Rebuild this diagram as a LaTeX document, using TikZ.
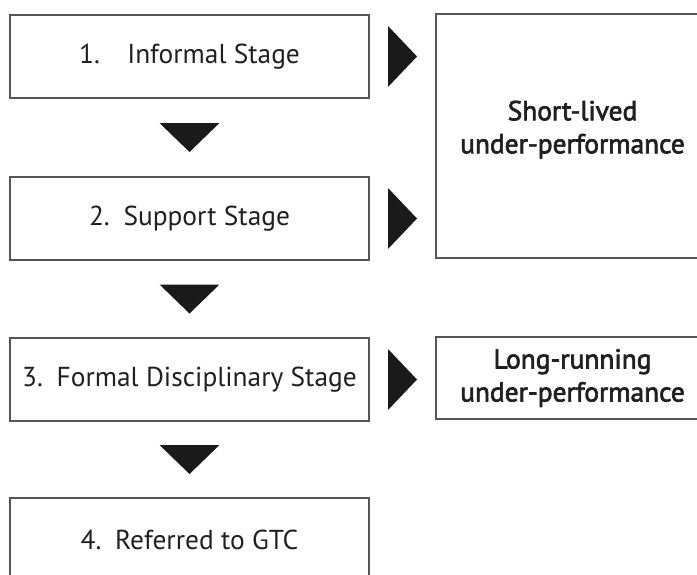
\documentclass[tikz,border=0pt]{standalone}
\usepackage{fontspec}
\setmainfont{PT Sans}
\newfontfamily\semibold[FakeBold=2.5]{PT Sans}
\usetikzlibrary{calc}

\definecolor{boxgray}{HTML}{555555}
\definecolor{txtdark}{HTML}{231F20}
\definecolor{trifill}{HTML}{1A1A1A}

\begin{document}
\begin{tikzpicture}[x=1pt, y=-1pt,
	stagebox/.style={draw=boxgray, line width=1.3pt, rectangle, minimum width=359pt, 
		minimum height=83pt, inner sep=0pt, text=txtdark, font=\fontsize{27.4}{32}\selectfont},
	outcomebox/.style={draw=boxgray, line width=1.3pt, rectangle, minimum width=273pt, 
		inner sep=0pt, align=center, text=txtdark, font=\semibold\fontsize{27.4}{33}\selectfont},
	tri/.style={fill=trifill}]
	
	\useasboundingbox (0,0) rectangle (697,574);
	
	%Nodes
	\node (informal) at (189.5,56.5) [stagebox]{1.\quad Informal Stage};
	
	\node (support) at (189.5,218.5) [stagebox]{2.\enspace Support Stage};
	
	\node (formal) at (189.5,379.5) [stagebox]{3.\enspace Formal Disciplinary Stage};
	
	\node (gtc) at (189.5,539.5) [stagebox]{4.\enspace Referred to GTC};
	
	\node (shortlived) at (572.5,136) [outcomebox, minimum height=244pt, text depth=18pt]{Short-lived\\under-performance};
	
	\node (longrunning) at (572.5,378) [outcomebox, minimum height=82pt]{Long-running\\under-performance};
	
	%Links down
	\fill[tri] ($(informal.south)!0.5!(support.north)$) ++(-30,-14.5) -- ++(60,0) -- ++(-30,29) -- cycle;
	
	\fill[tri] ($(support.south)!0.5!(formal.north)$) ++(-30,-14.5) -- ++(60,0) -- ++(-30,29) -- cycle;
	
	\fill[tri] ($(formal.south)!0.5!(gtc.north)$) ++(-30,-14.5) -- ++(60,0) -- ++(-30,29) -- cycle;
	
	%Links right
	\fill[tri] ($(informal.east)!0.5!(informal.east -| shortlived.west)$) ++(-14.5,-30.5) -- ++(29,30.5) -- ++(-29,30.5) -- cycle;
	
	\fill[tri] ($(support.east)!0.5!(support.east -| shortlived.west)$) ++(-14.5,-30.5) -- ++(29,30.5) -- ++(-29,30.5) -- cycle;
	
	\fill[tri] ($(formal.east)!0.5!(formal.east -| longrunning.west)$) ++(-14.5,-30.5) -- ++(29,30.5) -- ++(-29,30.5) -- cycle;
	
\end{tikzpicture}
\end{document}
